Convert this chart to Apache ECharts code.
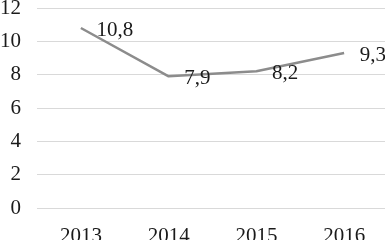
<!DOCTYPE html>
<html>
<head>
<meta charset="utf-8">
<script src="https://cdn.jsdelivr.net/npm/echarts@6/dist/echarts.min.js"></script>
<style>html,body{margin:0;padding:0;background:#fff}#c{width:385px;height:240px}</style>
</head>
<body>
<div id="c"></div>
<script>
var categories = ['2013', '2014', '2015', '2016'];
var values = [10.8, 7.9, 8.2, 9.3];
var yTicks = [0, 2, 4, 6, 8, 10, 12];

var chart = echarts.init(document.getElementById('c'), null, {renderer: 'canvas'});
var font = '"Liberation Serif", "Times New Roman", serif';
chart.setOption({
  animation: false,
  grid: {left: 37, top: 8, width: 351, height: 200, containLabel: false, outerBoundsMode: 'none'},
  xAxis: {
    type: 'category',
    data: categories,
    boundaryGap: true,
    axisLine: {show: false},
    axisTick: {show: false},
    axisLabel: {color: '#1a1a1a', fontFamily: font, fontSize: 21, margin: 18}
  },
  yAxis: {
    type: 'value',
    min: yTicks[0],
    max: yTicks[yTicks.length - 1],
    interval: 2,
    axisLine: {show: false},
    axisTick: {show: false},
    axisLabel: {color: '#1a1a1a', fontFamily: font, fontSize: 21, margin: 16},
    splitLine: {lineStyle: {color: '#d9d9d9', width: 1}}
  },
  series: [{
    type: 'line',
    data: values,
    symbol: 'circle',
    symbolSize: 1,
    showSymbol: true,
    itemStyle: {color: 'rgba(0,0,0,0)', borderWidth: 0},
    lineStyle: {color: '#8c8c8c', width: 2.5},
    label: {
      show: true,
      position: 'right',
      distance: 15,
      offset: [0, 2],
      color: '#1a1a1a',
      fontFamily: font,
      fontSize: 21,
      formatter: function (p) { return String(p.value).replace('.', ','); }
    }
  }]
});
</script>
</body>
</html>
